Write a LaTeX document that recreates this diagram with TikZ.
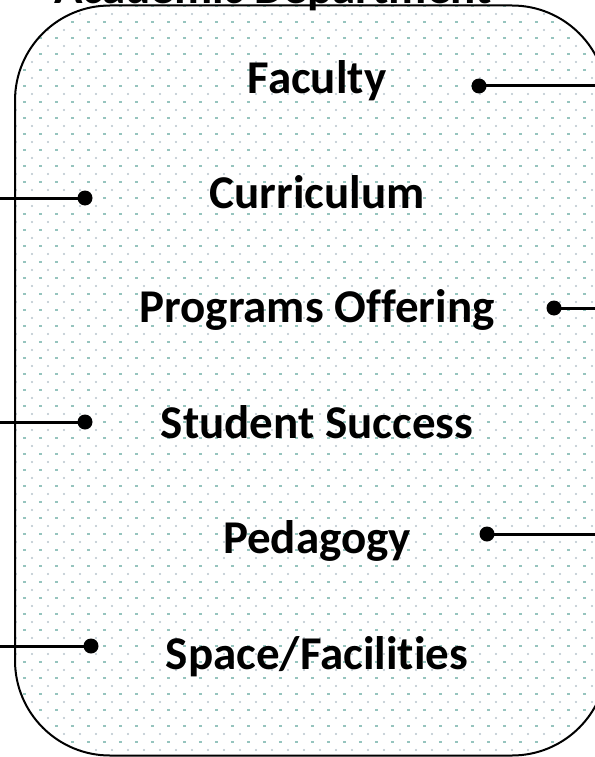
\documentclass[tikz,border=0pt]{standalone}
\usepackage{fontspec}
\setmainfont{Carlito}[Ligatures=NoCommon]
\begin{document}
\begin{tikzpicture}[x=1pt,y=-1pt,
  label text/.style={font=\fontsize{47}{56}\selectfont\bfseries, anchor=base, inner sep=0pt},
  pin dot/.style={circle, fill=black, inner sep=0pt, minimum size=15pt},
  conn/.style={line width=3pt, black},
  frame/.style={line width=2pt, black, rounded corners=95pt}]
  \useasboundingbox (0,0) rectangle (594,757);
  \fill[white] (0,0) rectangle (594,757);

  % dotted paper texture inside the rounded frame
  \begin{scope}
    \clip[rounded corners=95pt] (15,5.5) rectangle (607,755.5);
    \foreach \r in {0,...,47} {
      \foreach \c in {0,...,38} {
        \fill[fill={rgb,255:red,184;green,196;blue,204}] (16*\c,16*\r-2) circle (1.1pt);
        \fill[fill={rgb,255:red,150;green,196;blue,190}] (16*\c+6.5,16*\r+5.4) rectangle (16*\c+9.5,16*\r+6.6);
      }
    }
  \end{scope}

  % frame
  \draw[frame] (15,5.5) rectangle (607,755.5);

  % heading, mostly above the page edge
  \node[label text] (title) at (273,4) {Academic Department};

  % items
  \node[label text] (faculty)    at (317,94)  {Faculty};
  \node[label text] (curriculum) at (317,208) {Curriculum};
  \node[label text] (programs)   at (317,322) {Programs Offering};
  \node[label text] (success)    at (317,438) {Student Success};
  \node[label text] (pedagogy)   at (317,553) {Pedagogy};
  \node[label text] (space)      at (317,669) {Space/Facilities};

  % connector pins
  \node[pin dot] (dfac) at (479,86)  {};
  \node[pin dot] (dcur) at (85,198)  {};
  \node[pin dot] (dpro) at (554,308) {};
  \node[pin dot] (dsuc) at (85,422)  {};
  \node[pin dot] (dped) at (487,534) {};
  \node[pin dot] (dspa) at (91,646)  {};

  % free ends of the connectors
  \coordinate (efac) at (600,86);
  \coordinate (ecur) at (-6,198);
  \coordinate (epro) at (600,308);
  \coordinate (esuc) at (-6,422);
  \coordinate (eped) at (600,534);
  \coordinate (espa) at (-6,646);

  \draw[conn] (dfac.center) -- (efac);
  \draw[conn] (ecur) -- (dcur.center);
  \draw[conn] (dpro.center) -- (epro);
  \draw[conn] (esuc) -- (dsuc.center);
  \draw[conn] (dped.center) -- (eped);
  \draw[conn] (espa) -- (dspa.center);
\end{tikzpicture}
\end{document}
